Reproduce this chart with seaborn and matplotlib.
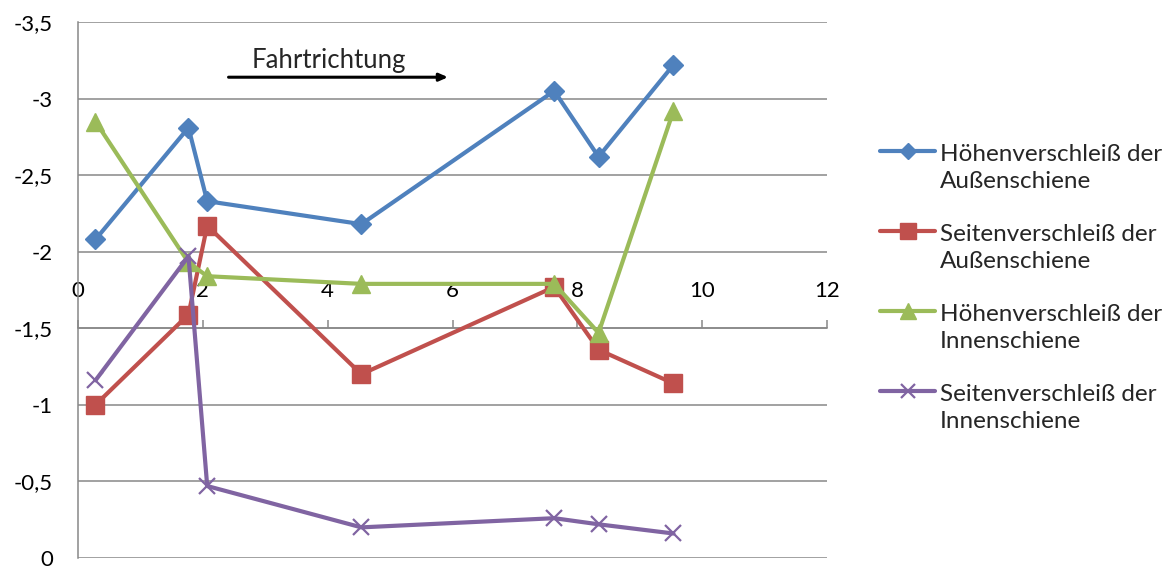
import numpy as np
import pandas as pd
import matplotlib
matplotlib.use("Agg")
import matplotlib.pyplot as plt
import seaborn as sns
from matplotlib.legend_handler import HandlerLine2D
from matplotlib.lines import Line2D

# Measurement positions along the track
positions = [0.28, 1.77, 2.07, 4.54, 7.63, 8.34, 9.54]

# Wear values per rail (mm)
hoehe_aussen = [-2.08, -2.81, -2.33, -2.18, -3.05, -2.62, -3.22]
seite_aussen = [-1.00, -1.59, -2.17, -1.20, -1.77, -1.36, -1.14]
hoehe_innen = [-2.85, -1.93, -1.84, -1.79, -1.79, -1.47, -2.92]
seite_innen = [-1.16, -1.97, -0.47, -0.20, -0.26, -0.22, -0.16]

series_names = [
    "Höhenverschleiß der\nAußenschiene",
    "Seitenverschleiß der\nAußenschiene",
    "Höhenverschleiß der\nInnenschiene",
    "Seitenverschleiß der\nInnenschiene",
]
series_values = [hoehe_aussen, seite_aussen, hoehe_innen, seite_innen]

y_ticks = [0, -0.5, -1, -1.5, -2, -2.5, -3, -3.5]
y_tick_labels = ["0", "-0,5", "-1", "-1,5", "-2", "-2,5", "-3", "-3,5"]
x_ticks = [0, 2, 4, 6, 8, 10, 12]
x_tick_labels = ["0", "2", "4", "6", "8", "10", "12"]
annotation_text = "Fahrtrichtung"

colors = ["#4F81BD", "#C0504D", "#9BBB59", "#8064A2"]
markers = ["D", "s", "^", "x"]
marker_sizes = [10, 13, 13, 12]
marker_edge = [1, 1, 1, 1.6]

sns.set_style("white")
plt.rcParams["font.family"] = ["Lato", "DejaVu Sans"]
TICK_FS = 16
LEG_FS = 17.5
NOTE_FS = 18.5

fig = plt.figure(figsize=(11.71, 5.66), dpi=100)
ax = fig.add_axes([78 / 1171, 8 / 566, 749 / 1171, 536 / 566])

for name, vals, c, m, ms, mew in zip(series_names, series_values, colors,
                                     markers, marker_sizes, marker_edge):
    df = pd.DataFrame({"x": positions, "y": vals})
    sns.lineplot(data=df, x="x", y="y", ax=ax, color=c, linewidth=3,
                 marker=m, markersize=ms, markeredgecolor=c,
                 markeredgewidth=mew, markerfacecolor=c, sort=False,
                 label=name, legend=False, zorder=3)

ax.set_xlim(0, 12)
ax.set_ylim(0, -3.5)
ax.set_yticks(y_ticks)
ax.set_yticklabels(y_tick_labels)
ax.set_xticks(x_ticks)
ax.set_xticklabels(x_tick_labels)
ax.set_xlabel("")
ax.set_ylabel("")

grid_c = "#888888"
ax.grid(axis="y", color=grid_c, linewidth=1.1, zorder=0)
ax.grid(axis="x", visible=False)

# Category axis crosses the value axis at -1,5
ax.spines["top"].set_position(("data", -1.5))
ax.spines["top"].set_color(grid_c)
ax.spines["top"].set_linewidth(1.1)
ax.spines["bottom"].set_visible(False)
ax.spines["right"].set_visible(False)
ax.spines["left"].set_color(grid_c)
ax.spines["left"].set_linewidth(1.1)
ax.xaxis.set_ticks_position("top")
ax.xaxis.set_label_position("top")
ax.tick_params(axis="x", direction="out", length=6, width=1.1, color=grid_c,
               labelsize=TICK_FS, pad=14, labeltop=True, labelbottom=False)
ax.tick_params(axis="y", direction="out", length=7, width=1.1, color=grid_c,
               labelsize=TICK_FS, pad=11)
for t in ax.get_xticklabels() + ax.get_yticklabels():
    t.set_color("black")

# Direction of travel
ax.annotate("", xy=(0.494, 0.897), xytext=(0.201, 0.897),
            xycoords="axes fraction", textcoords="axes fraction",
            arrowprops=dict(arrowstyle="-|>,head_length=0.5,head_width=0.22",
                            color="black", lw=2.2, shrinkA=0, shrinkB=0))
ax.text(0.3345, 0.928, annotation_text, transform=ax.transAxes,
        ha="center", va="center", fontsize=NOTE_FS)


class FirstLineHandler(HandlerLine2D):
    """Place the legend key beside the first line of a two-line label."""

    def __init__(self, lift, **kw):
        super().__init__(**kw)
        self.lift = lift

    def create_artists(self, legend, orig_handle, xdescent, ydescent, width,
                       height, fontsize, trans):
        arts = super().create_artists(legend, orig_handle, xdescent, ydescent,
                                      width, height, fontsize, trans)
        for a in arts:
            a.set_ydata(np.asarray(a.get_ydata(), dtype=float) + self.lift)
        return arts


handles = [Line2D([], [], color=c, lw=3, marker=m, markersize=ms * 0.85,
                  markerfacecolor=c, markeredgecolor=c, markeredgewidth=mew)
           for c, m, ms, mew in zip(colors, markers, marker_sizes, marker_edge)]
handler = FirstLineHandler(lift=12.3)
leg = fig.legend(handles, series_names, loc="upper left",
                 bbox_to_anchor=(880 / 1171, 1 - 144 / 566),
                 frameon=False, fontsize=LEG_FS, borderpad=0, borderaxespad=0,
                 handlelength=55 / (LEG_FS * 100 / 72), handletextpad=0.2,
                 labelspacing=1.32,
                 handler_map={h: handler for h in handles})
for t in leg.get_texts():
    t.set_linespacing(1.35)

fig.savefig("out.png", dpi=100)
